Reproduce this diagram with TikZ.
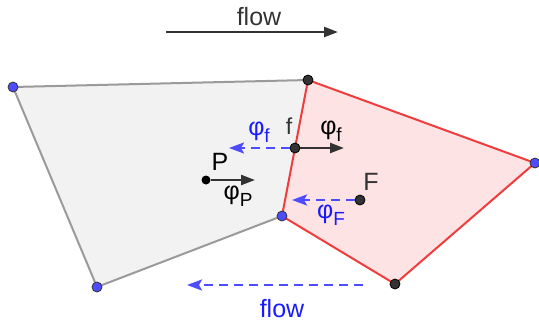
\documentclass[tikz,border=0pt]{standalone}
\usepackage{fontspec}
\setmainfont{Liberation Sans}
\usetikzlibrary{calc, positioning}
\usetikzlibrary{arrows.meta}

\definecolor{ggblue}{HTML}{4D4DFF}
\definecolor{ggtext}{HTML}{1A1AFF}
\definecolor{ggred}{HTML}{F03C3C}
\definecolor{ggdark}{HTML}{333333}
\definecolor{gggray}{HTML}{9A9A9A}
\definecolor{cellP}{HTML}{F2F2F2}
\definecolor{cellF}{HTML}{FDE3E3}

\newcommand{\phisub}[1]{φ\raisebox{-7pt}{\fontsize{19}{20}\selectfont #1}}

\tikzset{
  vblue/.style={circle, fill=ggblue, draw=ggdark, line width=0.8pt, inner sep=0pt, minimum size=10pt},
  vdark/.style={circle, fill=ggdark, draw=black, line width=0.8pt, inner sep=0pt, minimum size=10pt},
  cpt/.style={circle, fill=black, inner sep=0pt, minimum size=9pt},
  fluxarr/.style={-{Triangle[length=14pt, width=10pt]}, line width=2.3pt, ggdark},
  backarr/.style={-{Stealth[length=15pt, width=11pt, inset=3pt]}, line width=2.3pt, ggblue, dash pattern=on 9pt off 6pt},
  lbl/.style={font=\fontsize{25}{28}\selectfont, inner sep=0pt},
}

\begin{document}
\begin{tikzpicture}[x=1pt, y=-1pt]
\useasboundingbox (0,0) rectangle (539,322);

% cell vertices
\coordinate (A) at (13,87);
\coordinate (B) at (308,80);
\coordinate (C) at (282,216);
\coordinate (D) at (97,287);
\coordinate (E) at (535,163);
\coordinate (G) at (395,284);

\fill[cellP] (A) -- (B) -- (C) -- (D) -- cycle;
\fill[cellF] (B) -- (E) -- (G) -- (C) -- cycle;

\draw[gggray, line width=2pt] (C) -- (D) -- (A) -- (B);
\draw[ggred, line width=2pt] (B) -- (E) -- (G) -- (C) -- cycle;

% face and cell centres
\node[vdark] (f) at (295,148) {};
\node[cpt] (P) at (206,180) {};
\node[vdark] (F) at (360,200) {};

\coordinate (fR) at (344,148);
\coordinate (fL) at (229,148);
\coordinate (PR) at (255,180);
\coordinate (FL) at (292,200);

\draw[fluxarr] (f) -- (fR);
\draw[backarr] (f) -- (fL);
\draw[fluxarr] (P) -- (PR);
\draw[backarr] (F) -- (FL);

% vertices on top
\node[vblue] (nA) at (A) {};
\node[vdark] (nB) at (B) {};
\node[vblue] (nC) at (C) {};
\node[vblue] (nD) at (D) {};
\node[vblue] (nE) at (E) {};
\node[vdark] (nG) at (G) {};

% flow arrows
\coordinate (t1) at (166,32);
\coordinate (t2) at (338,32);
\draw[fluxarr] (t1) -- (t2);
\node[lbl, ggdark] (flowT) at (259,17) {flow};

\coordinate (b1) at (363,285);
\coordinate (b2) at (187,285);
\draw[backarr] (b1) -- (b2);
\node[lbl, ggtext] (flowB) at (282,309) {flow};

% labels
\node[lbl, ggdark, font=\fontsize{23}{26}\selectfont] (lf) at (289,126) {f};
\node[lbl, black] (lphif) at (331,131) {\phisub{f}};
\node[lbl, ggtext] (lphifb) at (259,132) {\phisub{f}};
\node[lbl, black] (lP) at (220,162) {P};
\node[lbl, black] (lphiP) at (238,196) {\phisub{P}};
\node[lbl, ggdark] (lF) at (371,182) {F};
\node[lbl, ggtext] (lphiF) at (331,215) {\phisub{F}};
\end{tikzpicture}
\end{document}
